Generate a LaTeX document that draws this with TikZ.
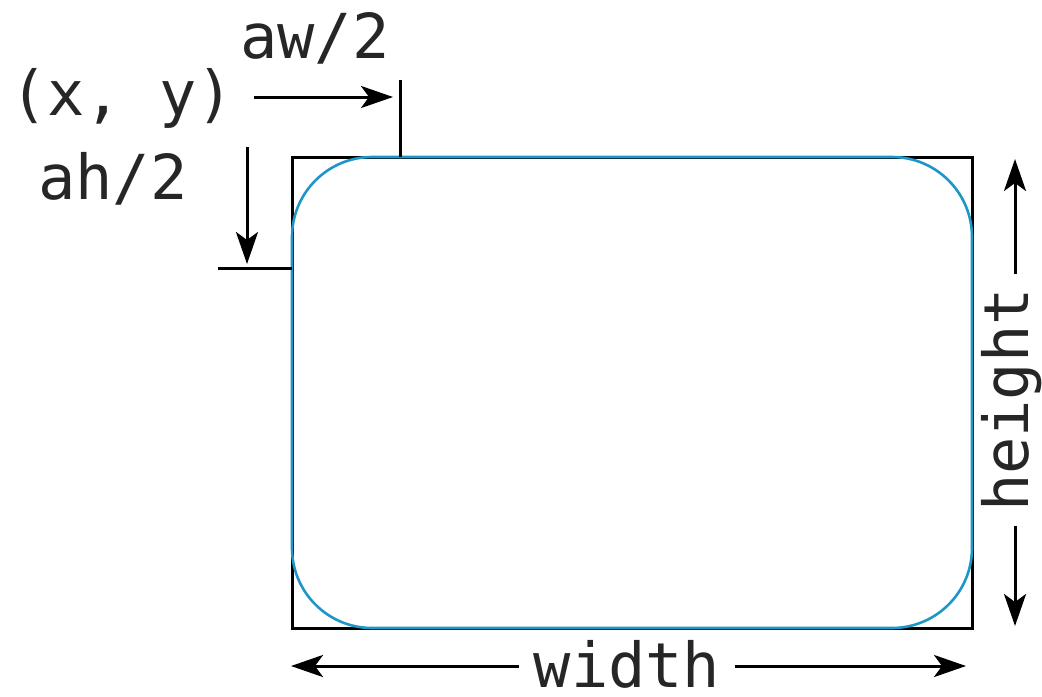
\documentclass[tikz,border=0pt]{standalone}
\usepackage{fontspec}
\setmonofont{DejaVu Sans Mono}
\usetikzlibrary{arrows.meta}
\definecolor{arcblue}{RGB}{30,150,200}

\tikzset{
    lbl/.style={font=\ttfamily\fontsize{31}{36}\selectfont, inner sep=0pt, text=black!85},
    dimarrow/.style={line width=1.5pt, -{Stealth[length=16pt,width=11pt,inset=4pt]}},
    tick/.style={line width=1.5pt},
}

\begin{document}
\begin{tikzpicture}[x=0.5pt, y=-0.5pt]
    \useasboundingbox (0,0) rectangle (1042,696);
    % enclosing rectangle and round rectangle
    \draw[line width=1.5pt] (292,157) rectangle (972,628);
    \draw[arcblue, line width=1.3pt, rounded corners=40pt] (292,157) rectangle (972,628);

    % labels
    \node[lbl, anchor=base] (xy) at (122,115) {(x, y)};
    \node[lbl, anchor=base] (aw) at (315,58) {aw/2};
    \node[lbl, anchor=base] (ah) at (113,199) {ah/2};
    \node[lbl, anchor=base, text depth=0pt] (wd) at (627,687) {width};
    \node[lbl, anchor=base, rotate=90] (ht) at (1028,400) {height};

    % ticks at the arc ends
    \coordinate (awtop) at (400,80);
    \coordinate (awbot) at (400,157);
    \coordinate (ahleft) at (218,268);
    \coordinate (ahright) at (292,268);
    \draw[tick] (awtop) -- (awbot);
    \draw[tick] (ahleft) -- (ahright);

    % arrows
    \draw[dimarrow] (xy.east |- 0,97) ++(20,0) -- (393,97);
    \draw[dimarrow] (247,147) -- (247,264);
    \draw[dimarrow] (wd.west |- 0,666) ++(-14,0) -- (291,666);
    \draw[dimarrow] (wd.east |- 0,666) ++(14,0) -- (966,666);
    \draw[dimarrow] (ht.east -| 1015,0) ++(0,-14) -- (1015,159);
    \draw[dimarrow] (ht.west -| 1015,0) ++(0,14) -- (1015,626);
\end{tikzpicture}
\end{document}
